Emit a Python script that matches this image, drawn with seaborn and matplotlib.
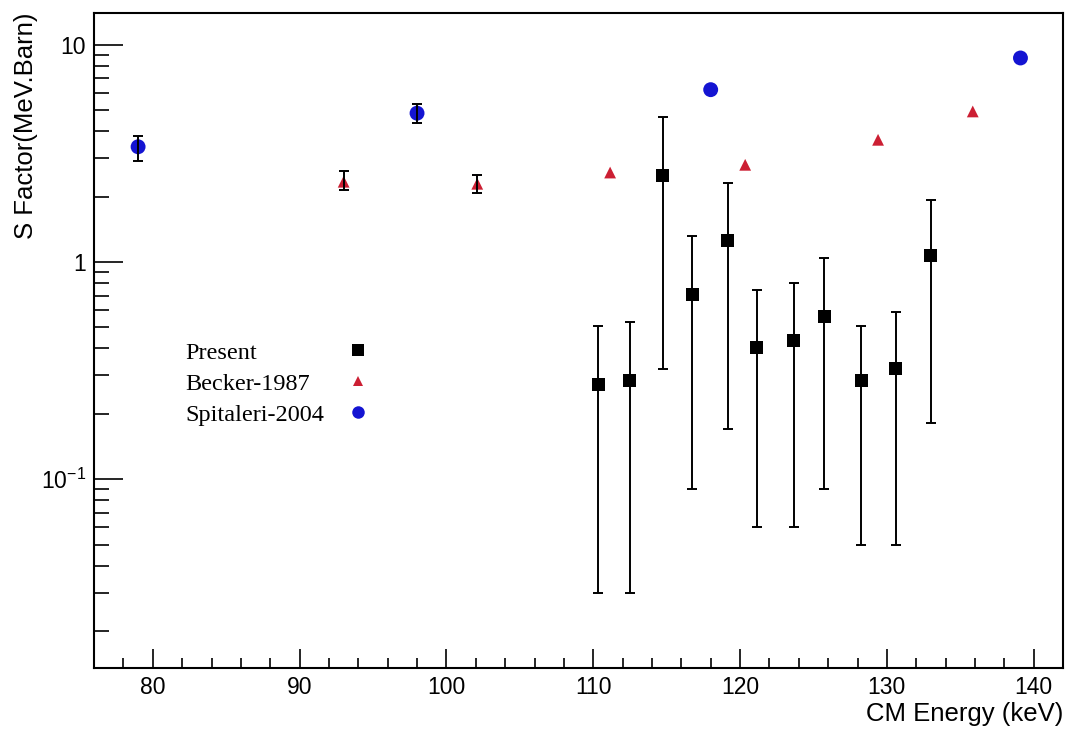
import matplotlib
matplotlib.use("Agg")
import matplotlib.pyplot as plt
from matplotlib.lines import Line2D
from matplotlib.ticker import MultipleLocator, FixedLocator, FixedFormatter, LogLocator, NullFormatter
import pandas as pd
import seaborn as sns

# present work: S factor with asymmetric error bars (lo / hi = bar ends)
present_e = [110.35, 112.5, 114.75, 116.75, 119.15, 121.15, 123.65, 125.75, 128.25, 130.6, 133.0]
present_s = [0.274, 0.284, 2.49, 0.71, 1.26, 0.403, 0.434, 0.563, 0.284, 0.324, 1.07]
present_lo = [0.030, 0.030, 0.321, 0.090, 0.171, 0.060, 0.060, 0.090, 0.050, 0.050, 0.181]
present_hi = [0.507, 0.527, 4.64, 1.32, 2.30, 0.745, 0.803, 1.04, 0.507, 0.586, 1.92]

# Becker 1987
becker_e = [93.0, 102.1, 111.15, 120.35, 129.4, 135.85]
becker_s = [2.34, 2.29, 2.58, 2.80, 3.65, 4.93]
becker_lo = [2.14, 2.08, 2.58, 2.80, 3.65, 4.93]
becker_hi = [2.62, 2.50, 2.58, 2.80, 3.65, 4.93]

# Spitaleri 2004
spitaleri_e = [79.0, 98.0, 118.0, 139.1]
spitaleri_s = [3.39, 4.84, 6.21, 8.69]
spitaleri_lo = [2.92, 4.36, 6.21, 8.69]
spitaleri_hi = [3.78, 5.35, 6.21, 8.69]

labels = ["Present", "Becker-1987", "Spitaleri-2004"]
colors = {"Present": "black", "Becker-1987": "#cc1f33", "Spitaleri-2004": "#1414d2"}
markers = {"Present": "s", "Becker-1987": "^", "Spitaleri-2004": "o"}
sizes = {"Present": 88, "Becker-1987": 72, "Spitaleri-2004": 115}

frames = []
for name, e, s, lo, hi in [
    ("Present", present_e, present_s, present_lo, present_hi),
    ("Becker-1987", becker_e, becker_s, becker_lo, becker_hi),
    ("Spitaleri-2004", spitaleri_e, spitaleri_s, spitaleri_lo, spitaleri_hi),
]:
    frames.append(pd.DataFrame({"energy": e, "sfactor": s, "lo": lo, "hi": hi, "source": name}))
df = pd.concat(frames, ignore_index=True)

sns.set_theme(style="white")
plt.rcParams["font.family"] = ["Liberation Sans", "DejaVu Sans"]
plt.rcParams["mathtext.fontset"] = "custom"
plt.rcParams["mathtext.rm"] = "Liberation Sans"
plt.rcParams["text.color"] = "black"
plt.rcParams["axes.labelcolor"] = "black"

fig = plt.figure(figsize=(10.7, 7.34), dpi=100)
ax = fig.add_axes([0.0879, 0.0899, 0.9056, 0.8924])
ax.set_yscale("log")

sns.scatterplot(data=df, x="energy", y="sfactor", hue="source", style="source",
                size="source", palette=colors, markers=markers, sizes=sizes,
                linewidth=0, legend=False, ax=ax, zorder=2)

for name, g in df.groupby("source"):
    g = g[g["hi"] > g["lo"]]
    ax.errorbar(g["energy"], g["sfactor"],
                yerr=[g["sfactor"] - g["lo"], g["hi"] - g["sfactor"]],
                fmt="none", ecolor="black", elinewidth=1.4, capsize=3.5,
                capthick=1.4, zorder=3)

ax.set_xlim(76, 142)
ax.set_ylim(0.0135, 14.0)

ax.xaxis.set_major_locator(MultipleLocator(10))
ax.xaxis.set_minor_locator(MultipleLocator(2))
ax.yaxis.set_major_locator(FixedLocator([0.1, 1, 10]))
ax.yaxis.set_major_formatter(FixedFormatter([r"$\mathregular{10^{-1}}$", "1", "10"]))
ax.yaxis.set_minor_locator(LogLocator(base=10, subs=range(2, 10)))
ax.yaxis.set_minor_formatter(NullFormatter())

ax.tick_params(which="both", bottom=True, left=True, top=False, right=False,
               direction="in", color="black", width=1.2)
ax.tick_params(axis="x", which="major", length=14, labelsize=16.5, pad=6, labelcolor="black")
ax.tick_params(axis="x", which="minor", length=7)
ax.tick_params(axis="y", which="major", length=21, labelsize=16.5, pad=6, labelcolor="black")
ax.tick_params(axis="y", which="minor", length=11)

for sp in ax.spines.values():
    sp.set_color("black")
    sp.set_linewidth(1.5)

ax.set_xlabel("CM Energy (keV)", fontsize=18.5, loc="right", labelpad=2)
ax.set_ylabel("S Factor(MeV.Barn)", fontsize=18.5, loc="top")
ax.yaxis.set_label_coords(-0.058, 1.0)

# legend: text column on the left, marker column on the right
text_handles = [Line2D([], [], linestyle="none", marker="") for _ in labels]
marker_handles = [Line2D([], [], linestyle="none", marker=markers[n], color=colors[n],
                         markeredgewidth=0, markersize={"Present": 8, "Becker-1987": 7,
                                                        "Spitaleri-2004": 9}[n])
                  for n in labels]
ax.legend(text_handles + marker_handles, labels + [""] * 3, ncol=2,
          handlelength=0, handletextpad=0, columnspacing=1.4, frameon=False,
          prop={"family": "Liberation Serif", "size": 17.5},
          loc="upper left", bbox_to_anchor=(0.094, 0.498),
          borderaxespad=0, borderpad=0, labelspacing=0.37, labelcolor="black")

fig.savefig("out.png", dpi=100)
